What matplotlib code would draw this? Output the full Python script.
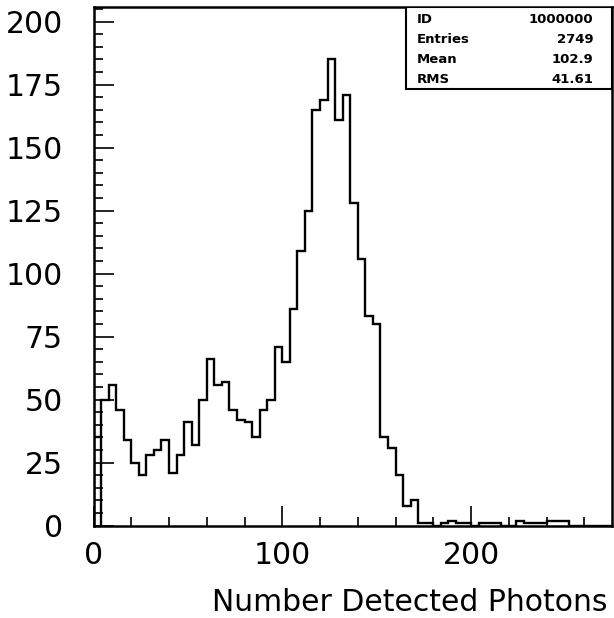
import numpy as np
import matplotlib
matplotlib.use("Agg")
import matplotlib.pyplot as plt
from matplotlib.patches import Rectangle
from matplotlib.ticker import MultipleLocator

# histogram contents, 4 photons per bin starting at 0
bin_width = 4
counts = [35, 50, 56, 46, 34, 25, 20, 28, 30, 34,
          21, 28, 41, 32, 50, 66, 56, 57, 46, 42,
          41, 35, 46, 50, 71, 65, 86, 109, 125, 165,
          169, 185, 161, 171, 128, 106, 83, 80, 35, 31,
          20, 8, 10, 1, 1, 0, 1, 2, 1, 1,
          0, 1, 1, 1, 0, 0, 2, 1, 1, 1,
          2, 2, 2, 0, 0, 0, 0, 0, 0]

stat_names = ["ID", "Entries", "Mean", "RMS"]
stat_values = ["1000000", "2749", "102.9", "41.61"]

x_label = "Number Detected Photons"

edges = np.arange(len(counts) + 1) * bin_width

fig = plt.figure(figsize=(6.14, 6.18), dpi=100)
fig.patch.set_facecolor("white")
ax = fig.add_axes([0.1523, 0.1494, 0.8439, 0.8393])

ax.stairs(counts, edges, baseline=0, color="black", linewidth=1.7)
# the scan shows the first bin closed down to the axis
ax.vlines(edges[1], 0, counts[0], color="black", linewidth=1.7)

ax.set_xlim(0, 274.5)
ax.set_ylim(0, 205.8)

ax.xaxis.set_major_locator(MultipleLocator(100))
ax.xaxis.set_minor_locator(MultipleLocator(20))
ax.yaxis.set_major_locator(MultipleLocator(25))
ax.yaxis.set_minor_locator(MultipleLocator(5))

ax.tick_params(which="both", direction="in", top=False, right=False,
               width=1.2, colors="black", labelsize=21.5)
ax.tick_params(which="major", length=14.5)
ax.tick_params(which="minor", length=6.5)
ax.tick_params(axis="y", which="major", pad=22)
ax.tick_params(axis="x", which="major", pad=11)

for s in ax.spines.values():
    s.set_linewidth(1.8)

# statistics box in the top right corner
row_h = 20 / 518.7
box_h = 82 / 518.7
ax.add_patch(Rectangle((0.603, 1 - box_h), 0.397, box_h, transform=ax.transAxes,
                       facecolor="white", edgecolor="black", linewidth=1.5,
                       zorder=5))
for i, (name, val) in enumerate(zip(stat_names, stat_values)):
    yy = 1 - (13 / 518.7) - i * row_h
    ax.text(0.6237, yy, name, transform=ax.transAxes, ha="left", va="center",
            fontsize=9.5, fontweight="bold", zorder=6)
    ax.text(0.9648, yy, val, transform=ax.transAxes, ha="right", va="center",
            fontsize=9.5, fontweight="bold", zorder=6)

fig.text(608 / 614, 1 - 611 / 618, x_label, ha="right", va="baseline",
         fontsize=21.5)

fig.savefig("out.png", dpi=100)
